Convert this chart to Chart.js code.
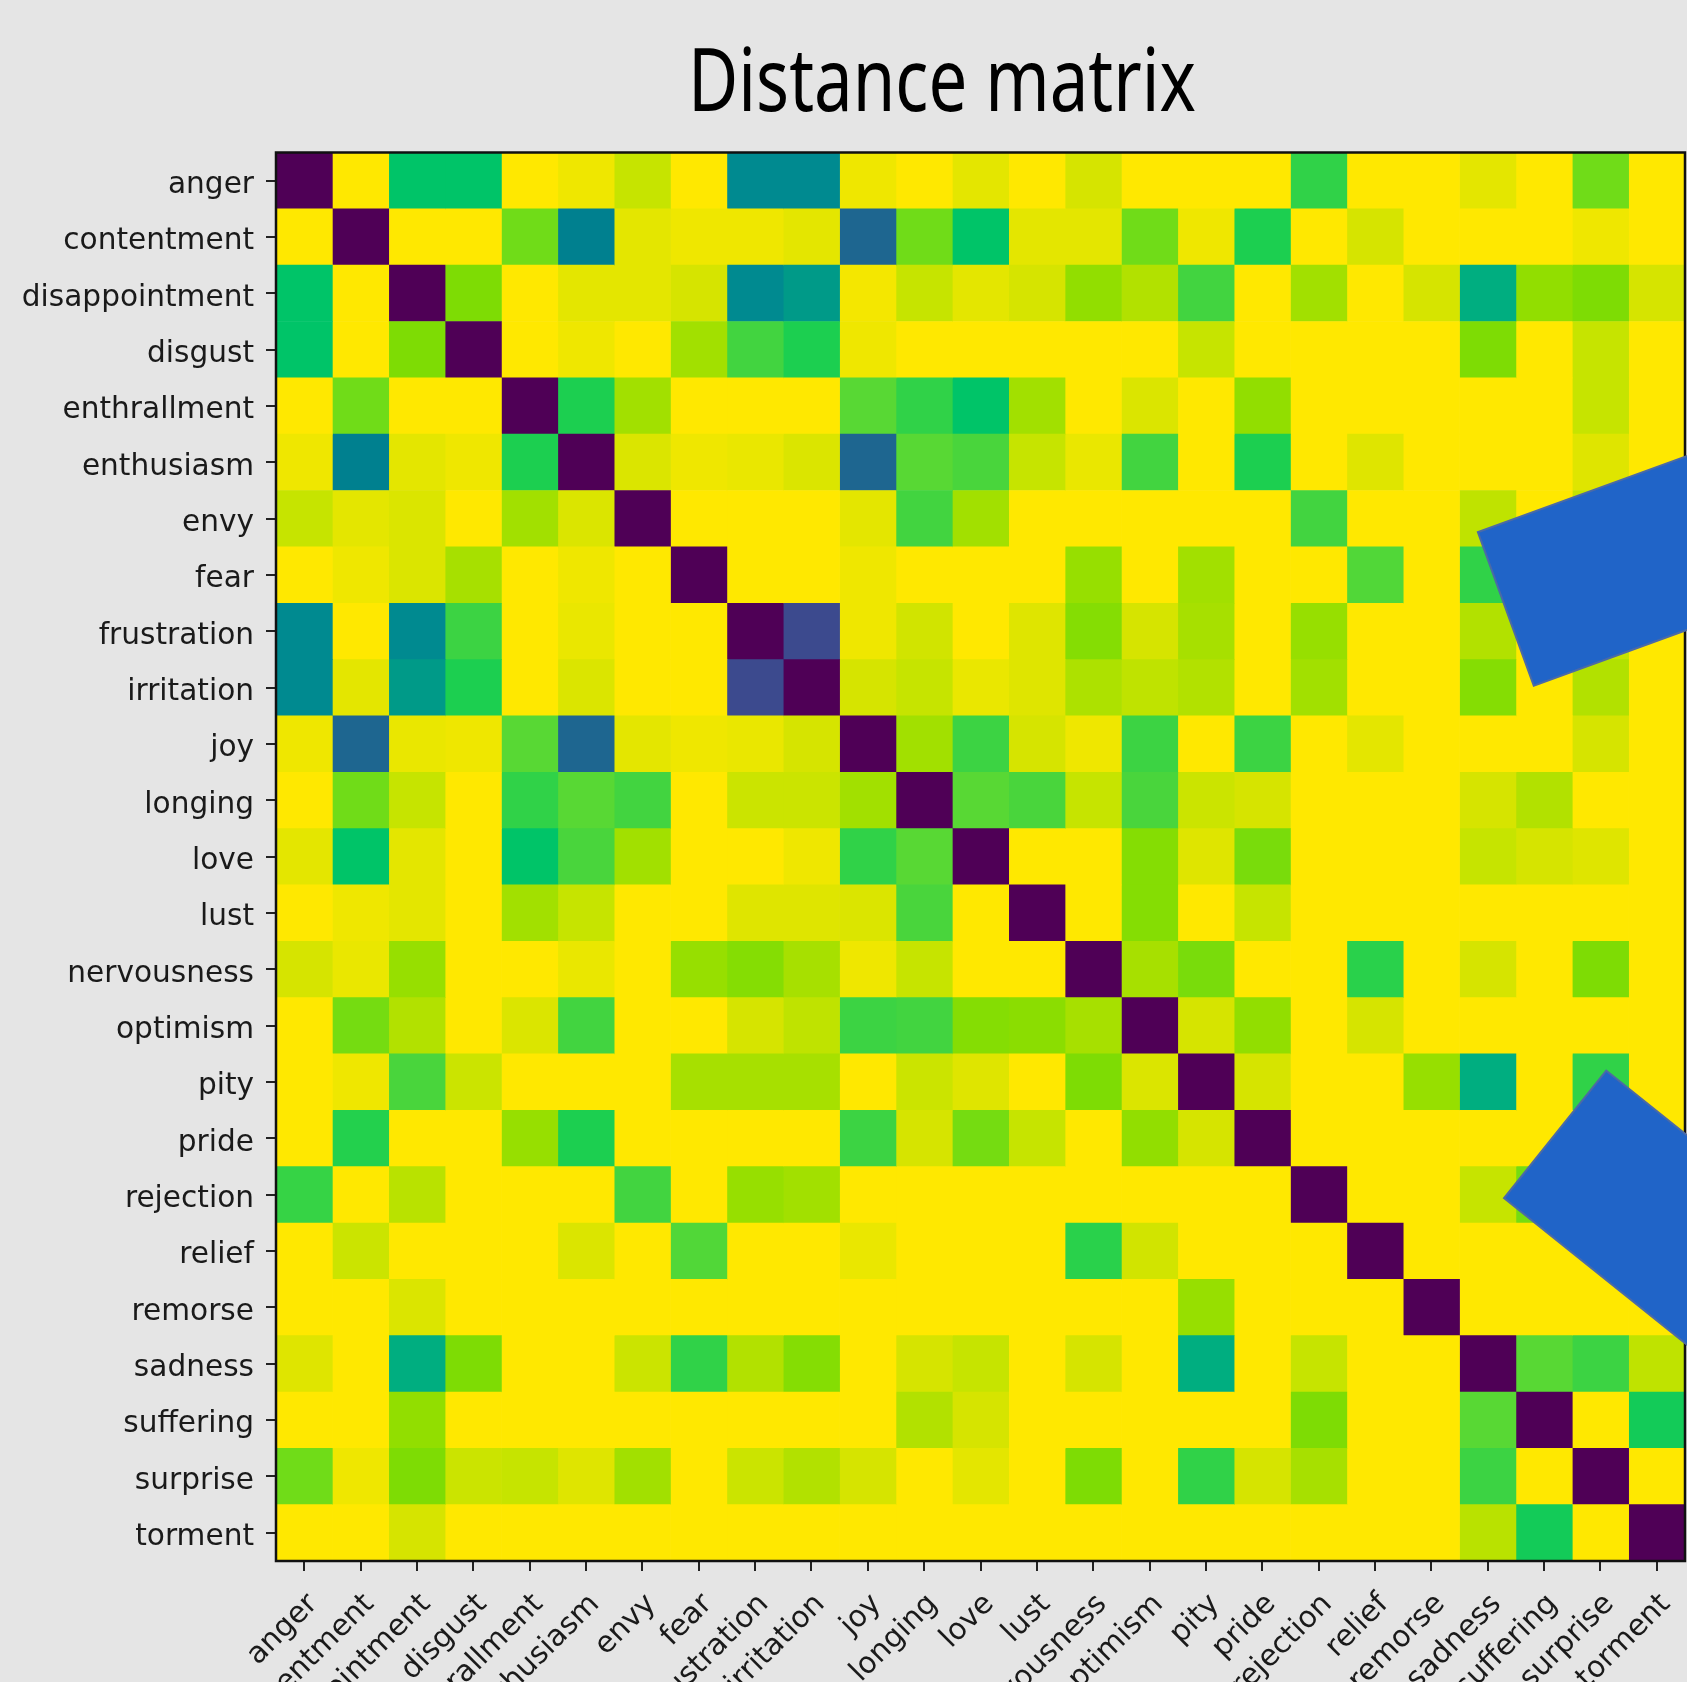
<!DOCTYPE html>
<html>
<head>
<meta charset="utf-8">
<title>Distance matrix</title>
<script src="https://cdn.jsdelivr.net/npm/chart.js@4.4.1/dist/chart.umd.min.js"></script>
<style>
  html, body { margin: 0; padding: 0; background: #e5e5e5; overflow: hidden; }
  #wrap { width: 1687px; height: 1682px; overflow: hidden; }
</style>
</head>
<body>
<div id="wrap"><canvas id="myChart-matriz" width="1687" height="1800"></canvas></div>
<script>
// emotions (rows top to bottom, columns left to right)
const emocoes = [
  'anger', 'contentment', 'disappointment', 'disgust', 'enthrallment',
  'enthusiasm', 'envy', 'fear', 'frustration', 'irritation', 'joy',
  'longing', 'love', 'lust', 'nervousness', 'optimism', 'pity', 'pride',
  'rejection', 'relief', 'remorse', 'sadness', 'suffering', 'surprise', 'torment'
];

// distance between emotions, one row per emotion
const distAnger          = [0, 1, .59, .59, 1, .97, .89, 1, .46, .46, .97, 1, .95, 1, .92, 1, 1, 1, .65, 1, 1, .95, 1, .74, 1];
const distContentment    = [1, 0, 1, 1, .74, .42, .95, .97, .97, .95, .35, .74, .59, .95, .95, .74, .97, .62, 1, .92, 1, 1, 1, .97, 1];
const distDisappointment = [.59, 1, 0, .77, 1, .95, .95, .92, .46, .5, .98, .89, .95, .92, .80, .86, .68, 1, .83, 1, .92, .55, .80, .77, .92];
const distDisgust        = [.59, 1, .77, 0, 1, .97, 1, .83, .68, .62, .97, 1, 1, 1, 1, 1, .89, 1, 1, 1, 1, .77, 1, .89, 1];
const distEnthrallment   = [1, .74, 1, 1, 0, .62, .83, 1, 1, 1, .71, .65, .59, .83, 1, .93, 1, .80, 1, 1, 1, 1, 1, .89, 1];
const distEnthusiasm     = [.97, .42, .95, .97, .62, 0, .93, .97, .96, .93, .35, .71, .69, .89, .96, .68, 1, .62, 1, .94, 1, 1, 1, .94, 1];
const distEnvy           = [.89, .95, .93, 1, .83, .93, 0, 1, 1, 1, .95, .68, .83, 1, 1, 1, 1, 1, .68, 1, 1, .88, 1, .89, 1];
const distFear           = [1, .97, .93, .84, 1, .97, 1, 0, 1, 1, .97, 1, 1, 1, .81, 1, .83, 1, 1, .70, 1, .65, 1, .89, 1];
const distFrustration    = [.46, 1, .46, .67, 1, .96, 1, 1, 0, .27, .97, .91, 1, .94, .78, .92, .84, 1, .81, 1, 1, .86, 1, .89, 1];
const distIrritation     = [.46, .95, .5, .62, 1, .93, 1, 1, .27, 0, .92, .89, .96, .94, .85, .88, .86, 1, .83, 1, 1, .78, 1, .86, 1];
const distJoy            = [.97, .35, .96, .97, .71, .35, .95, .97, .96, .92, 0, .83, .67, .92, .97, .67, 1, .67, 1, .95, 1, 1, 1, .92, 1];
const distLonging        = [1, .74, .89, 1, .65, .71, .68, 1, .90, .90, .83, 0, .71, .69, .89, .69, .90, .92, 1, 1, 1, .92, .86, 1, 1];
const distLove           = [.95, .59, .95, 1, .59, .69, .83, 1, 1, .97, .65, .71, 0, 1, 1, .78, .94, .76, 1, 1, 1, .89, .92, .94, 1];
const distLust           = [1, .97, .95, 1, .83, .89, 1, 1, .94, .94, .93, .69, 1, 0, 1, .78, 1, .89, 1, 1, 1, 1, 1, 1, 1];
const distNervousness    = [.92, .96, .81, 1, 1, .96, 1, .81, .78, .84, .97, .89, 1, 1, 0, .84, .76, 1, 1, .64, 1, .92, 1, .77, 1];
const distOptimism       = [1, .75, .86, 1, .93, .68, 1, 1, .92, .88, .67, .68, .78, .79, .84, 0, .92, .80, 1, .92, 1, 1, 1, 1, 1];
const distPity           = [1, .97, .69, .90, 1, 1, 1, .84, .84, .84, 1, .90, .94, 1, .77, .93, 0, .92, 1, 1, .81, .55, 1, .65, 1];
const distPride          = [1, .63, 1, 1, .81, .62, 1, 1, 1, 1, .67, .92, .75, .89, 1, .80, .92, 0, 1, 1, 1, 1, 1, 1, 1];
const distRejection      = [.66, 1, .87, 1, 1, 1, .68, 1, .81, .83, 1, 1, 1, 1, 1, 1, 1, 1, 0, 1, 1, .89, .75, 1, 1];
const distRelief         = [1, .90, 1, 1, 1, .93, 1, .70, 1, 1, .96, 1, 1, 1, .64, .91, 1, 1, 1, 0, 1, 1, 1, 1, 1];
const distRemorse        = [1, 1, .93, 1, 1, 1, 1, 1, 1, 1, 1, 1, 1, 1, 1, 1, .81, 1, 1, 1, 0, 1, 1, 1, 1];
const distSadness        = [.94, 1, .55, .77, 1, 1, .90, .65, .86, .78, 1, .92, .89, 1, .92, 1, .55, 1, .89, 1, 1, 0, .71, .67, .88];
const distSuffering      = [1, 1, .80, 1, 1, 1, 1, 1, 1, 1, 1, .86, .92, 1, 1, 1, 1, 1, .77, 1, 1, .71, 0, 1, .61];
const distSurprise       = [.74, .97, .77, .90, .89, .94, .83, 1, .90, .86, .92, 1, .95, 1, .77, 1, .65, .92, .84, 1, 1, .67, 1, 0, 1];
const distTorment        = [1, 1, .92, 1, 1, 1, 1, 1, 1, 1, 1, 1, 1, 1, 1, 1, 1, 1, 1, 1, 1, .87, .61, 1, 0];

const distancias = [
  distAnger, distContentment, distDisappointment, distDisgust, distEnthrallment,
  distEnthusiasm, distEnvy, distFear, distFrustration, distIrritation, distJoy,
  distLonging, distLove, distLust, distNervousness, distOptimism, distPity, distPride,
  distRejection, distRelief, distRemorse, distSadness, distSuffering, distSurprise, distTorment
];

// viridis-like colour ramp (value -> colour)
const escala = [
  [0.00, '#4f0056'], [0.27, '#3c4a8e'], [0.35, '#1e6690'], [0.42, '#00808f'],
  [0.46, '#008a90'], [0.50, '#009a88'], [0.55, '#00ae80'], [0.59, '#00c468'],
  [0.62, '#1ccf50'], [0.65, '#30d248'], [0.68, '#42d440'], [0.71, '#58d834'],
  [0.74, '#70dc18'], [0.77, '#7edc04'], [0.80, '#92de00'], [0.83, '#a2e000'],
  [0.86, '#b2e100'], [0.89, '#c6e400'], [0.92, '#d6e400'], [0.95, '#e4e600'],
  [0.97, '#efe700'], [1.00, '#ffe800']
];

function hexParaRgb(h) {
  return [1, 3, 5].map(i => parseInt(h.substr(i, 2), 16));
}

function corDaDistancia(v) {
  for (let i = 1; i < escala.length; i++) {
    const [v0, c0] = escala[i - 1];
    const [v1, c1] = escala[i];
    if (v <= v1) {
      const t = (v - v0) / (v1 - v0);
      const a = hexParaRgb(c0), b = hexParaRgb(c1);
      const rgb = a.map((x, k) => Math.round(x + (b[k] - x) * t));
      return 'rgb(' + rgb.join(',') + ')';
    }
  }
  return escala[escala.length - 1][1];
}

// background, title, frame and the two blue panels
const desenhoExtra = {
  id: 'desenhoExtra',
  beforeDraw(chart) {
    const ctx = chart.ctx;
    ctx.save();
    ctx.fillStyle = '#e5e5e5';
    ctx.fillRect(0, 0, chart.width, chart.height);
    // title, condensed by squeezing the text horizontally
    ctx.font = '88px "Noto Sans"';
    ctx.fillStyle = '#000';
    ctx.textAlign = 'center';
    ctx.textBaseline = 'alphabetic';
    const texto = 'Distance matrix';
    const escalaX = 508 / ctx.measureText(texto).width;
    ctx.translate(942, 111);
    ctx.scale(escalaX, 1);
    ctx.fillText(texto, 0, 0);
    ctx.restore();
  },
  afterDatasetsDraw(chart) {
    const ctx = chart.ctx;
    const a = chart.chartArea;
    ctx.save();
    ctx.strokeStyle = '#111';
    ctx.lineWidth = 2.5;
    ctx.strokeRect(a.left, a.top, a.right - a.left, a.bottom - a.top);
    ctx.restore();
  },
  afterDraw(chart) {
    const ctx = chart.ctx;
    const a = chart.chartArea;
    const w = a.right - a.left, h = a.bottom - a.top;
    const lado = 0.116 * w;
    const paineis = [
      { x: a.left + 0.8530 * w, y: a.top + 0.2695 * h, ang: -20 },
      { x: a.left + 0.9441 * w, y: a.top + 0.6518 * h, ang: 38.7 }
    ];
    ctx.save();
    paineis.forEach(p => {
      ctx.save();
      ctx.translate(p.x, p.y);
      ctx.rotate(p.ang * Math.PI / 180);
      ctx.beginPath();
      ctx.rect(0, 0, 420, lado);
      ctx.fillStyle = '#2064c8';
      ctx.fill();
      ctx.strokeStyle = '#4b6aa6';
      ctx.lineWidth = 2;
      ctx.stroke();
      ctx.restore();
    });
    ctx.restore();
  }
};

function gerarMatriz() {
  const ctx = document.getElementById('myChart-matriz').getContext('2d');

  // one stacked dataset per column, each cell one unit wide
  const datasets = emocoes.map((coluna, c) => ({
    label: coluna,
    data: emocoes.map(() => 1),
    backgroundColor: distancias.map(linha => corDaDistancia(linha[c])),
    borderWidth: 0,
    barPercentage: 1,
    categoryPercentage: 1
  }));

  const fonteEixo = { family: 'DejaVu Sans', size: 29.6 };

  new Chart(ctx, {
    type: 'bar',
    data: { labels: emocoes, datasets: datasets },
    options: {
      responsive: false,
      animation: false,
      indexAxis: 'y',
      layout: { padding: { top: 152.5, right: 2, left: 0, bottom: 0 } },
      plugins: {
        legend: { display: false },
        title: { display: false },
        tooltip: { enabled: false }
      },
      scales: {
        x: {
          type: 'linear',
          stacked: true,
          min: 0,
          max: emocoes.length,
          afterBuildTicks: s => { s.ticks = emocoes.map((_, i) => ({ value: i + 0.5 })); },
          afterFit: s => {
            s.height = 239;
            // rotated labels should not shrink the plot
            s.paddingLeft = 0;
            s.paddingRight = 0;
          },
          border: { display: false },
          grid: { drawOnChartArea: false, drawTicks: true, tickLength: 10, color: '#222', lineWidth: 2 },
          ticks: {
            autoSkip: false,
            minRotation: 45,
            maxRotation: 45,
            padding: 16,
            labelOffset: 9,
            color: '#1a1a1a',
            font: fonteEixo,
            callback: (v, i) => emocoes[i]
          }
        },
        y: {
          stacked: true,
          afterFit: s => { s.width = 276; },
          border: { display: false },
          grid: { offset: false, drawOnChartArea: false, drawTicks: true, tickLength: 10, color: '#222', lineWidth: 2 },
          ticks: { padding: 12, labelOffset: 4.5, color: '#1a1a1a', font: fonteEixo }
        }
      }
    },
    plugins: [desenhoExtra]
  });
}

gerarMatriz();
</script>
</body>
</html>
